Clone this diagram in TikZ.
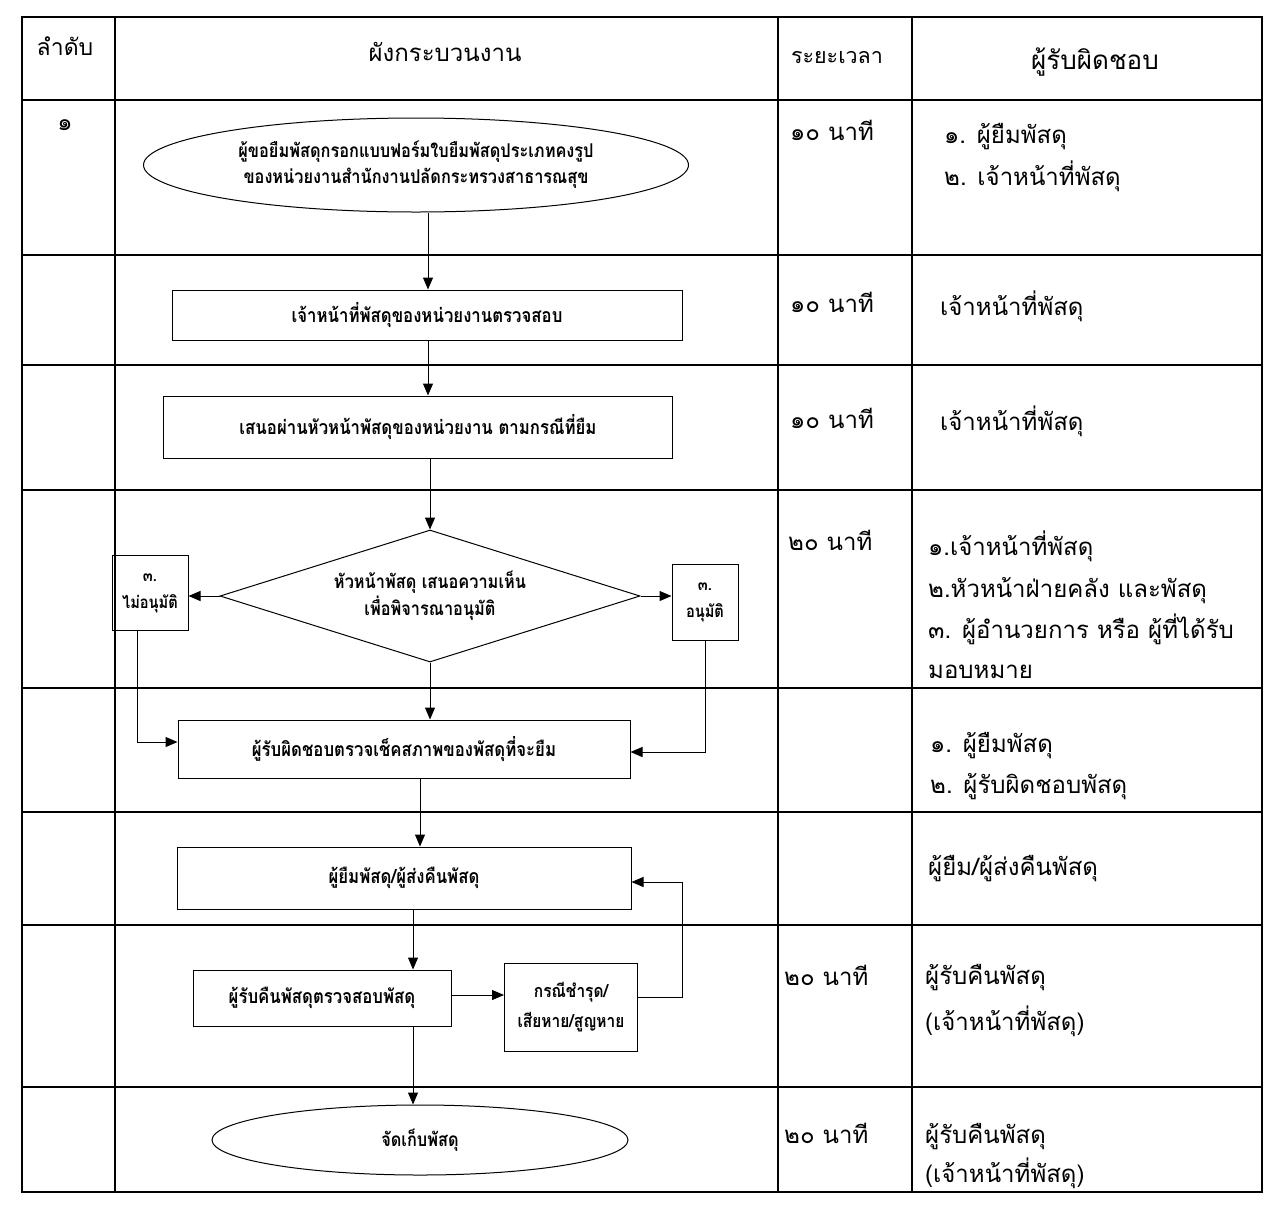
\documentclass[tikz,border=0pt]{standalone}
\usepackage{fontspec}
\newfontfamily\thai[Script=Thai]{Loma}
\newfontfamily\thaic[Script=Thai,FakeStretch=0.86]{Loma}
\usetikzlibrary{shapes.geometric,arrows.meta}
\tikzset{
  gridline/.style={line width=1.8pt},
  flowline/.style={line width=1pt,-{Triangle[length=12pt,width=10pt]}},
  pbox/.style={draw,line width=1pt,rectangle,align=center,inner sep=2pt,font=\thaic\bfseries\fontsize{19.5}{27}\selectfont},
  pell/.style={draw,line width=1pt,ellipse,align=center,inner sep=0pt,font=\thaic\bfseries\fontsize{19}{26}\selectfont},
  pdia/.style={draw,line width=1pt,diamond,align=center,inner sep=0pt,font=\thaic\bfseries\fontsize{19}{27}\selectfont},
  headtxt/.style={font=\thai\fontsize{23}{26}\selectfont},
  celltxt/.style={font=\thai\fontsize{24}{30}\selectfont,anchor=base west,inner sep=0pt},
}
\begin{document}
\begin{tikzpicture}[x=1pt,y=-1pt]
\useasboundingbox (0,0) rectangle (1276,1211);
% table
\draw[gridline] (22,17) rectangle (1262,1192);
\foreach \yy in {100,255,365,490,688,812,925,1087}
  \draw[gridline] (22,\yy) -- (1262,\yy);
\foreach \xx in {115,778,912}
  \draw[gridline] (\xx,17) -- (\xx,1192);
% header
\node[headtxt] (h1) at (65,46) {ลำดับ};
\node[headtxt,font=\thai\fontsize{24}{26}\selectfont] (h2) at (445,52) {ผังกระบวนงาน};
\node[headtxt,font=\thai\fontsize{21.5}{26}\selectfont] (h3) at (837,58) {ระยะเวลา};
\node[headtxt,font=\thai\fontsize{26}{28}\selectfont] (h4) at (1095,62) {ผู้รับผิดชอบ};
% order
\node[celltxt,anchor=center] (n1) at (65,125) {๑};
% times
\node[celltxt] (t1) at (790,140) {๑๐ นาที};
\node[celltxt] (t2) at (790,312) {๑๐ นาที};
\node[celltxt] (t3) at (790,428) {๑๐ นาที};
\node[celltxt] (t4) at (788,550) {๒๐ นาที};
\node[celltxt] (t7) at (784,985) {๒๐ นาที};
\node[celltxt] (t8) at (784,1143) {๒๐ นาที};
% responsible
\node[celltxt] (r1a) at (944,143) {๑. ผู้ยืมพัสดุ};
\node[celltxt] (r1b) at (944,185) {๒. เจ้าหน้าที่พัสดุ};
\node[celltxt] (r2) at (940,315) {เจ้าหน้าที่พัสดุ};
\node[celltxt] (r3) at (940,430) {เจ้าหน้าที่พัสดุ};
\node[celltxt] (r4a) at (928,555) {๑.เจ้าหน้าที่พัสดุ};
\node[celltxt] (r4b) at (928,597) {๒.หัวหน้าฝ่ายคลัง และพัสดุ};
\node[celltxt] (r4c) at (928,638) {๓. ผู้อำนวยการ หรือ ผู้ที่ได้รับ};
\node[celltxt] (r4d) at (928,678) {มอบหมาย};
\node[celltxt] (r5a) at (930,752) {๑. ผู้ยืมพัสดุ};
\node[celltxt] (r5b) at (930,793) {๒. ผู้รับผิดชอบพัสดุ};
\node[celltxt] (r6) at (928,875) {ผู้ยืม/ผู้ส่งคืนพัสดุ};
\node[celltxt] (r7a) at (925,984) {ผู้รับคืนพัสดุ};
\node[celltxt] (r7b) at (925,1030) {(เจ้าหน้าที่พัสดุ)};
\node[celltxt] (r8a) at (925,1143) {ผู้รับคืนพัสดุ};
\node[celltxt] (r8b) at (925,1182) {(เจ้าหน้าที่พัสดุ)};
% flowchart
\node[pell,minimum width=545,minimum height=94] (e1) at (416,165) {ผู้ขอยืมพัสดุกรอกแบบฟอร์มใบยืมพัสดุประเภทคงรูป\\ของหน่วยงานสำนักงานปลัดกระทรวงสาธารณสุข};
\node[pbox,minimum width=510,minimum height=50] (b2) at (427,315) {เจ้าหน้าที่พัสดุของหน่วยงานตรวจสอบ};
\node[pbox,minimum width=509,minimum height=62] (b3) at (418,427) {เสนอผ่านหัวหน้าพัสดุของหน่วยงาน ตามกรณีที่ยืม};
\node[pdia,minimum width=420,minimum height=132,aspect=3.18] (d4) at (430,596) {หัวหน้าพัสดุ เสนอความเห็น\\เพื่อพิจารณาอนุมัติ};
\node[pbox,minimum width=76,minimum height=75,font=\thaic\bfseries\fontsize{17}{27}\selectfont] (no) at (150,593) {๓.\\ไม่อนุมัติ};
\node[pbox,minimum width=66,minimum height=76,font=\thaic\bfseries\fontsize{17}{27}\selectfont] (yes) at (705,602) {๓.\\อนุมัติ};
\node[pbox,minimum width=452,minimum height=58] (b5) at (404,749) {ผู้รับผิดชอบตรวจเช็คสภาพของพัสดุที่จะยืม};
\node[pbox,minimum width=454,minimum height=62] (b6) at (404,878) {ผู้ยืมพัสดุ/ผู้ส่งคืนพัสดุ};
\node[pbox,minimum width=258,minimum height=56] (b7) at (322,998) {ผู้รับคืนพัสดุตรวจสอบพัสดุ};
\node[pbox,minimum width=133,minimum height=88,font=\thaic\bfseries\fontsize{18}{30}\selectfont] (b8) at (571,1007) {กรณีชำรุด/\\เสียหาย/สูญหาย};
\node[pell,minimum width=416,minimum height=70] (e9) at (420,1140) {จัดเก็บพัสดุ};
% connectors
\draw[flowline] (e1.south -| 428,0) -- (b2.north -| 428,0);
\draw[flowline] (b2.south -| 428,0) -- (b3.north -| 428,0);
\draw[flowline] (b3.south -| 430,0) -- (d4.north);
\draw[flowline] (d4.west) -- (no.east |- d4.west);
\draw[flowline] (d4.east) -- (yes.west |- d4.east);
\draw[flowline] (d4.south) -- (b5.north -| d4.south);
\draw[flowline] (no.south -| 137,0) |- (b5.west |- 0,742);
\draw[flowline] (yes.south) |- (b5.east |- 0,752);
\draw[flowline] (b5.south -| 420,0) -- (b6.north -| 420,0);
\draw[flowline] (b6.south -| 413,0) -- (b7.north -| 413,0);
\draw[flowline] (b7.east |- 0,995) -- (b8.west |- 0,995);
\draw[flowline] (b8.east |- 0,997) -| (682,882) -- (b6.east |- 0,882);
\draw[flowline] (b7.south -| 413,0) -- (e9.north -| 413,0);
\end{tikzpicture}
\end{document}
